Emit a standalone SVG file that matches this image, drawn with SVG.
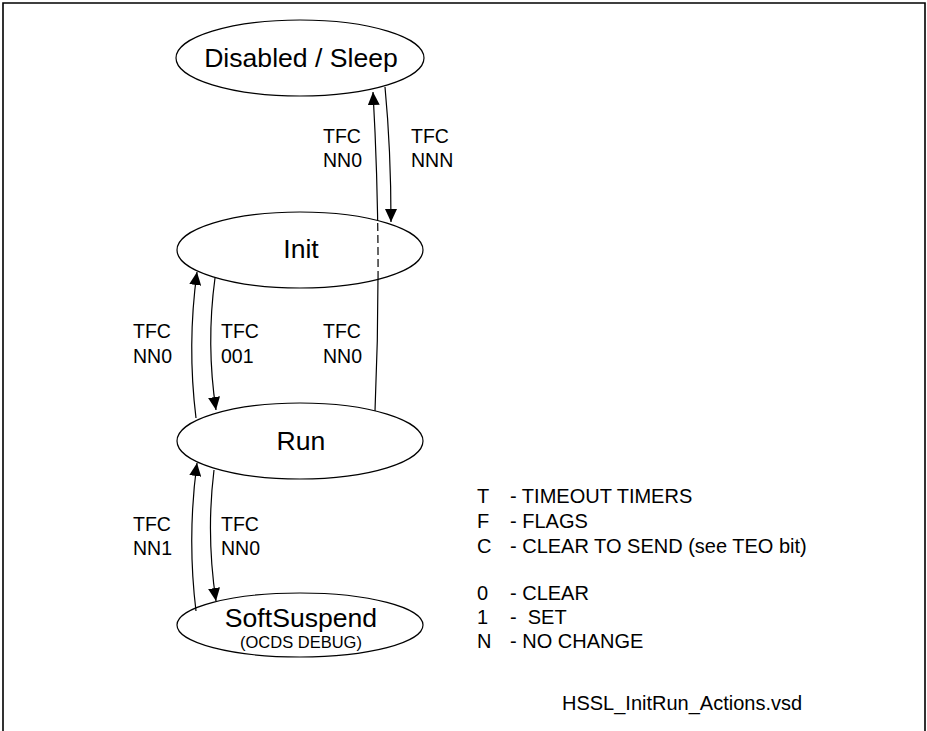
<svg xmlns="http://www.w3.org/2000/svg" width="927" height="731" viewBox="0 0 927 731">
<style>
.node ellipse{fill:#fff;stroke:#000;stroke-width:1.2}
.big{font-family:"Liberation Sans",Arial,sans-serif;font-size:26.6px;fill:#000;text-anchor:middle}
.sub{font-family:"Liberation Sans",Arial,sans-serif;font-size:16.5px;fill:#000;text-anchor:middle}
.lbl{font-family:"Liberation Sans",Arial,sans-serif;font-size:19.5px;fill:#000}
.leg{font-family:"Liberation Sans",Arial,sans-serif;font-size:20px;fill:#000;white-space:pre}
.conn path{fill:none;stroke:#000;stroke-width:1.2}
</style>
<defs>
<marker id="ah" markerUnits="userSpaceOnUse" markerWidth="14" markerHeight="12" refX="13" refY="6" orient="auto">
<path d="M0,0 L13,6 L0,12 Z" fill="#000"/>
</marker>
<mask id="outInit" maskUnits="userSpaceOnUse" x="0" y="0" width="927" height="731">
<rect x="0" y="0" width="927" height="731" fill="#fff"/>
<ellipse cx="300" cy="250" rx="123" ry="38" fill="#000"/>
</mask>
<clipPath id="inInit"><ellipse cx="300" cy="250" rx="123" ry="38"/></clipPath>
</defs>
<rect width="927" height="731" fill="#fff"/>
<path d="M3,731 V3 H925 V731" fill="none" stroke="#000" stroke-width="1.6"/>

<g id="node-disabled" class="node">
<ellipse cx="300" cy="58" rx="124" ry="38"/>
<text class="big" x="301" y="67">Disabled / Sleep</text>
</g>
<g id="node-init" class="node">
<ellipse cx="300" cy="250" rx="123" ry="38"/>
<text class="big" x="301" y="258">Init</text>
</g>
<g id="node-run" class="node">
<ellipse cx="300" cy="441" rx="123" ry="38"/>
<text class="big" x="301" y="450">Run</text>
</g>
<g id="node-softsuspend" class="node">
<ellipse cx="300" cy="625" rx="123" ry="32"/>
<text class="big" x="301" y="627">SoftSuspend</text>
<text class="sub" x="301" y="648">(OCDS DEBUG)</text>
</g>

<g id="connectors" class="conn">
<path d="M375,411 Q382,250 373,92" marker-end="url(#ah)" mask="url(#outInit)"/>
<path d="M375,411 Q382,250 373,92" stroke-dasharray="8 4" clip-path="url(#inInit)"/>
<path d="M385,87 Q391,150 391,222" marker-end="url(#ah)"/>
<path d="M196,418 Q187,345 197,272" marker-end="url(#ah)"/>
<path d="M215,278 Q206,344 216,410" marker-end="url(#ah)"/>
<path d="M196,611 Q187,537 197,463" marker-end="url(#ah)"/>
<path d="M214,470 Q206,535 216,601" marker-end="url(#ah)"/>
</g>

<g id="labels">
<text class="lbl" x="323" y="143">TFC</text>
<text class="lbl" x="323" y="167">NN0</text>
<text class="lbl" x="411" y="143">TFC</text>
<text class="lbl" x="411" y="167">NNN</text>
<text class="lbl" x="133" y="338">TFC</text>
<text class="lbl" x="133" y="363">NN0</text>
<text class="lbl" x="221" y="338">TFC</text>
<text class="lbl" x="221" y="363">001</text>
<text class="lbl" x="323" y="338">TFC</text>
<text class="lbl" x="323" y="363">NN0</text>
<text class="lbl" x="133" y="531">TFC</text>
<text class="lbl" x="133" y="555">NN1</text>
<text class="lbl" x="221" y="531">TFC</text>
<text class="lbl" x="221" y="555">NN0</text>
</g>

<g id="legend">
<text class="leg" x="477" y="503">T</text><text class="leg" x="510" y="503">- TIMEOUT TIMERS</text>
<text class="leg" x="477" y="528">F</text><text class="leg" x="510" y="528">- FLAGS</text>
<text class="leg" x="477" y="553">C</text><text class="leg" x="510" y="553">- CLEAR TO SEND (see TEO bit)</text>
<text class="leg" x="477" y="600">0</text><text class="leg" x="510" y="600">- CLEAR</text>
<text class="leg" x="477" y="624">1</text><text class="leg" x="510" y="624" xml:space="preserve">-  SET</text>
<text class="leg" x="477" y="648">N</text><text class="leg" x="510" y="648">- NO CHANGE</text>
<text class="leg" x="562" y="710">HSSL_InitRun_Actions.vsd</text>
</g>
</svg>
